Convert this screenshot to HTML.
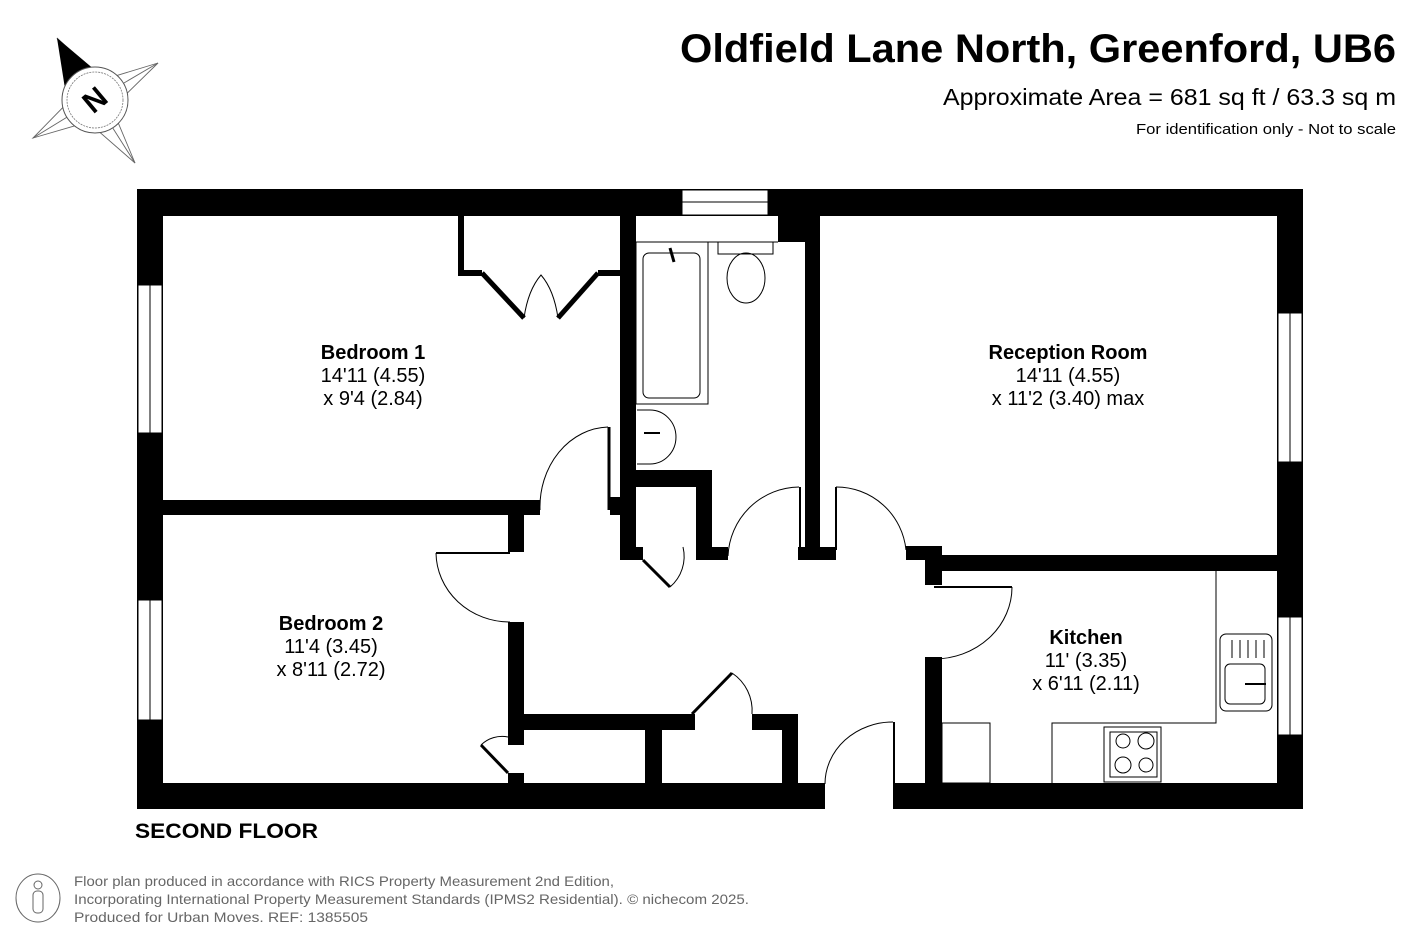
<!DOCTYPE html>
<html><head><meta charset="utf-8"><style>
html,body{margin:0;padding:0;background:#fff;}
body{width:1425px;height:950px;position:relative;overflow:hidden;font-family:"Liberation Sans",Arial,sans-serif;}
svg{position:absolute;left:0;top:0;}
</style></head><body>
<svg width="1425" height="950" viewBox="0 0 1425 950" xmlns="http://www.w3.org/2000/svg" font-family="Liberation Sans, Arial, sans-serif">
<!-- compass -->
<g stroke="#666" stroke-width="0.9" fill="#fff">
<polygon points="158,63 112,108 135,163 88,122 33,138 78,92 57,38 102,80"/>
<line x1="158" y1="63" x2="95" y2="100"/><line x1="135" y1="163" x2="95" y2="100"/><line x1="33" y1="138" x2="95" y2="100"/>
</g>
<polygon points="57,38 66,95 102,76" fill="#000"/>
<circle cx="95" cy="100" r="33" fill="#fff" stroke="#555" stroke-width="1"/>
<circle cx="95" cy="100" r="28" fill="#fff" stroke="#777" stroke-width="0.8" stroke-dasharray="2,1"/>
<text x="95" y="110" font-size="30" font-weight="bold" text-anchor="middle" transform="rotate(-40 95 100)">N</text>

<!-- titles -->
<text x="680" y="62" font-size="40" font-weight="bold" textLength="716" lengthAdjust="spacingAndGlyphs">Oldfield Lane North, Greenford, UB6</text>
<text x="943" y="105" font-size="23" textLength="453" lengthAdjust="spacingAndGlyphs">Approximate Area = 681 sq ft / 63.3 sq m</text>
<text x="1136" y="134" font-size="15" textLength="260" lengthAdjust="spacingAndGlyphs">For identification only - Not to scale</text>

<!-- walls -->
<g fill="#000">
<rect x="137" y="189" width="1166" height="27"/>
<rect x="137" y="189" width="26" height="620"/>
<rect x="1277" y="189" width="26" height="620"/>
<rect x="137" y="783" width="688" height="26"/>
<rect x="893" y="783" width="410" height="26"/>
<rect x="163" y="500" width="377" height="15"/>
<rect x="508" y="500" width="16" height="52"/>
<rect x="508" y="622" width="16" height="123"/>
<rect x="508" y="773" width="16" height="10"/>
<rect x="524" y="714" width="171" height="16"/>
<rect x="645" y="714" width="17" height="69"/>
<rect x="752" y="714" width="46" height="16"/>
<rect x="782" y="714" width="16" height="69"/>
<rect x="620" y="216" width="16" height="344"/>
<rect x="610" y="497" width="12" height="18"/>
<rect x="636" y="470" width="76" height="17"/>
<rect x="696" y="470" width="16" height="90"/>
<rect x="696" y="547" width="32" height="13"/>
<rect x="620" y="547" width="23" height="13"/>
<rect x="778" y="216" width="42" height="26"/>
<rect x="805" y="216" width="15" height="344"/>
<rect x="798" y="547" width="38" height="13"/>
<rect x="906" y="546" width="36" height="14"/>
<rect x="925" y="555" width="352" height="16"/>
<rect x="925" y="555" width="17" height="30"/>
<rect x="925" y="657" width="17" height="126"/>
<rect x="458" y="216" width="6" height="60"/>
<rect x="458" y="270" width="24" height="6"/>
<rect x="598" y="270" width="22" height="6"/>
</g>
<g stroke="#000" stroke-width="5" fill="none">
<line x1="482" y1="273" x2="524" y2="318"/>
<line x1="598" y1="273" x2="558" y2="318"/>
</g>
<!-- windows -->
<g fill="#fff" stroke="#000" stroke-width="1">
<rect x="682" y="190" width="86" height="25"/><line x1="682" y1="202" x2="768" y2="202"/>
<rect x="138" y="285" width="24" height="148"/><line x1="150" y1="285" x2="150" y2="433"/>
<rect x="138" y="600" width="24" height="120"/><line x1="150" y1="600" x2="150" y2="720"/>
<rect x="1278" y="313" width="24" height="149"/><line x1="1290" y1="313" x2="1290" y2="462"/>
<rect x="1278" y="617" width="24" height="118"/><line x1="1290" y1="617" x2="1290" y2="735"/>
</g>
<!-- doors -->
<g stroke="#000" fill="none" stroke-width="1">
<path d="M524,318 Q528,290 541,275 Q554,290 558,318"/>
<path d="M608,427 A70,80 0 0 0 540,510"/>
<line x1="609" y1="427" x2="609" y2="510" stroke-width="3"/>
<path d="M436,553 A74,70 0 0 0 510,622"/>
<line x1="436" y1="553" x2="510" y2="553" stroke-width="2"/>
<path d="M732,673 A45,45 0 0 1 752,714"/>
<line x1="692" y1="714" x2="732" y2="673" stroke-width="3"/>
<path d="M481,745 A30,30 0 0 1 508,737"/>
<line x1="481" y1="745" x2="508" y2="773" stroke-width="3"/>
<path d="M643,560 L670,587" stroke-width="3"/>
<path d="M670,587 A40,40 0 0 0 683,547"/>
<path d="M799,487 A72,72 0 0 0 728,556"/>
<line x1="800" y1="487" x2="800" y2="550" stroke-width="2"/>
<path d="M836,487 A70,70 0 0 1 906,550"/>
<line x1="836" y1="487" x2="836" y2="550" stroke-width="2"/>
<path d="M1012,587 A78,72 0 0 1 934,659"/>
<line x1="934" y1="587" x2="1012" y2="587" stroke-width="2"/>
<path d="M893,722 A68,62 0 0 0 825,784"/>
<line x1="894" y1="722" x2="894" y2="784" stroke-width="2"/>
</g>
<!-- bathroom fixtures -->
<g stroke="#000" fill="none" stroke-width="1">
<line x1="636" y1="242" x2="778" y2="242"/>
<rect x="636" y="242" width="72" height="162"/>
<rect x="643" y="253" width="57" height="145" rx="6"/>
<line x1="670" y1="248" x2="674" y2="262" stroke-width="3"/>
<path d="M637,410 L650,410 A26,27 0 0 1 650,464 L637,464"/>
<line x1="644" y1="433" x2="660" y2="433" stroke-width="2"/>
<rect x="718" y="242" width="55" height="12"/>
<ellipse cx="746" cy="278" rx="19" ry="25"/>
<polyline points="1216,571 1216,723 1052,723 1052,783"/>
<rect x="942" y="723" width="48" height="60"/>
<rect x="1104" y="727" width="57" height="55"/>
<rect x="1110" y="732" width="47" height="45"/>
<circle cx="1123" cy="741" r="7"/><circle cx="1146" cy="741" r="8"/>
<circle cx="1123" cy="765" r="8"/><circle cx="1146" cy="765" r="7"/>
<rect x="1220" y="634" width="52" height="77" rx="6"/>
<rect x="1225" y="664" width="40" height="40" rx="5"/>
<line x1="1245" y1="684" x2="1266" y2="684" stroke-width="2"/>
<line x1="1232" y1="640" x2="1232" y2="658"/><line x1="1240" y1="640" x2="1240" y2="658"/><line x1="1248" y1="640" x2="1248" y2="658"/><line x1="1256" y1="640" x2="1256" y2="658"/><line x1="1264" y1="640" x2="1264" y2="658"/>
</g>
<!-- labels -->
<g text-anchor="middle" font-size="20">
<text x="373" y="359" font-weight="bold">Bedroom 1</text>
<text x="373" y="382">14'11 (4.55)</text>
<text x="373" y="405">x 9'4 (2.84)</text>
<text x="1068" y="359" font-weight="bold">Reception Room</text>
<text x="1068" y="382">14'11 (4.55)</text>
<text x="1068" y="405">x 11'2 (3.40) max</text>
<text x="331" y="630" font-weight="bold">Bedroom 2</text>
<text x="331" y="653">11'4 (3.45)</text>
<text x="331" y="676">x 8'11 (2.72)</text>
<text x="1086" y="644" font-weight="bold">Kitchen</text>
<text x="1086" y="667">11' (3.35)</text>
<text x="1086" y="690">x 6'11 (2.11)</text>
</g>
<text x="135" y="838" font-size="21" font-weight="bold" textLength="183" lengthAdjust="spacingAndGlyphs">SECOND FLOOR</text>
<!-- footer -->
<ellipse cx="38" cy="898" rx="22" ry="24" fill="none" stroke="#666" stroke-width="1"/>
<circle cx="38" cy="885" r="4" fill="none" stroke="#666"/>
<rect x="33" y="891" width="10" height="22" rx="4" fill="none" stroke="#666"/>
<g font-size="14" fill="#666">
<text x="74" y="886" textLength="540" lengthAdjust="spacingAndGlyphs">Floor plan produced in accordance with RICS Property Measurement 2nd Edition,</text>
<text x="74" y="904" textLength="675" lengthAdjust="spacingAndGlyphs">Incorporating International Property Measurement Standards (IPMS2 Residential).   © nichecom 2025.</text>
<text x="74" y="922" textLength="294" lengthAdjust="spacingAndGlyphs">Produced for Urban Moves.   REF: 1385505</text>
</g>
</svg>
</body></html>
